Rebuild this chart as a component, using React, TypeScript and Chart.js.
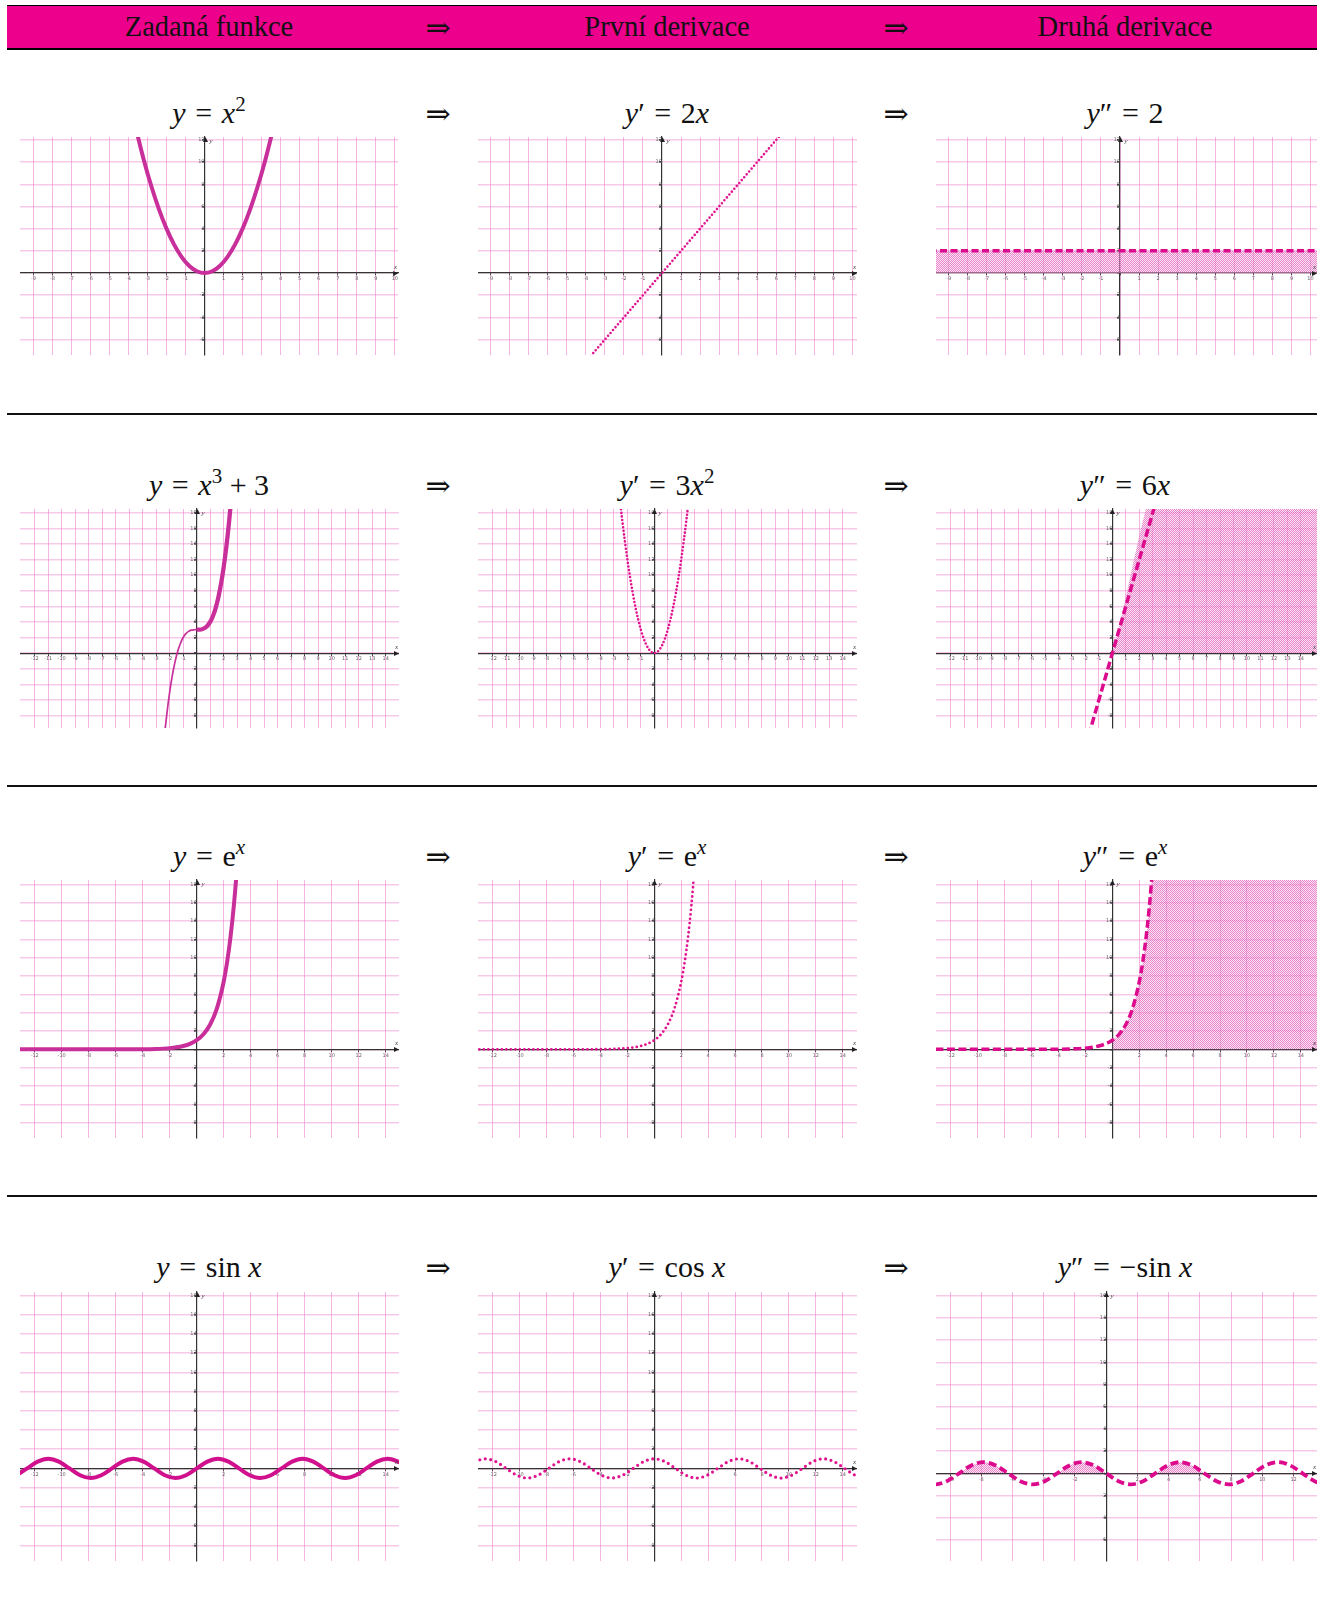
import React, { useEffect, useRef } from 'react';
import { Chart, registerables } from 'chart.js';

Chart.register(...registerables);

// ---------- data ----------
const HEADER_LABELS = ['Zadaná funkce', 'První derivace', 'Druhá derivace'];

const X_TICKS_R1 = [-9, -8, -7, -6, -5, -4, -3, -2, -1, 0, 1, 2, 3, 4, 5, 6, 7, 8, 9, 10];
const Y_TICKS_R1 = [-6, -4, -2, 0, 2, 4, 6, 8, 10, 12];
const X_TICKS_R2 = [-12, -11, -10, -9, -8, -7, -6, -5, -4, -3, -2, -1, 0, 1, 2, 3, 4, 5, 6, 7, 8, 9, 10, 11, 12, 13, 14];
const Y_TICKS_R2 = [-8, -6, -4, -2, 0, 2, 4, 6, 8, 10, 12, 14, 16, 18];
const X_TICKS_R3 = [-12, -10, -8, -6, -4, -2, 0, 2, 4, 6, 8, 10, 12, 14];
const X_TICKS_R4C3 = [-10, -8, -6, -4, -2, 0, 2, 4, 6, 8, 10, 12];
const Y_TICKS_R4C3 = [-6, -4, -2, 0, 2, 4, 6, 8, 10, 12, 14, 16];

// y = x^2
const PARABOLA_X = [-3.6, -3.2, -2.8, -2.4, -2.0, -1.6, -1.2, -0.8, -0.4, 0, 0.4, 0.8, 1.2, 1.6, 2.0, 2.4, 2.8, 3.2, 3.6];
const PARABOLA_Y = [12.96, 10.24, 7.84, 5.76, 4.0, 2.56, 1.44, 0.64, 0.16, 0, 0.16, 0.64, 1.44, 2.56, 4.0, 5.76, 7.84, 10.24, 12.96];
// y' = 2x
const LINE2X_X = [-4, 6.5];
const LINE2X_Y = [-8, 13];
// y'' = 2
const CONST2_X = [-10, 11];
const CONST2_Y = [2, 2];

// y = x^3 + 3
const CUBIC_LEFT_X = [-2.6, -2.4, -2.2, -2.0, -1.8, -1.6, -1.4, -1.2, -1.0, -0.8, -0.6, -0.4, -0.2, 0];
const CUBIC_LEFT_Y = [-14.58, -10.82, -7.65, -5.0, -2.83, -1.1, 0.26, 1.27, 2.0, 2.49, 2.78, 2.94, 2.99, 3.0];
const CUBIC_RIGHT_X = [0, 0.2, 0.4, 0.6, 0.8, 1.0, 1.2, 1.4, 1.6, 1.8, 2.0, 2.2, 2.4, 2.6];
const CUBIC_RIGHT_Y = [3.0, 3.01, 3.06, 3.22, 3.51, 4.0, 4.73, 5.74, 7.1, 8.83, 11.0, 13.65, 16.82, 20.58];
// y' = 3x^2
const QUAD3_X = [-2.6, -2.4, -2.2, -2.0, -1.8, -1.6, -1.4, -1.2, -1.0, -0.8, -0.6, -0.4, -0.2, 0, 0.2, 0.4, 0.6, 0.8, 1.0, 1.2, 1.4, 1.6, 1.8, 2.0, 2.2, 2.4, 2.6];
const QUAD3_Y = [20.28, 17.28, 14.52, 12.0, 9.72, 7.68, 5.88, 4.32, 3.0, 1.92, 1.08, 0.48, 0.12, 0, 0.12, 0.48, 1.08, 1.92, 3.0, 4.32, 5.88, 7.68, 9.72, 12.0, 14.52, 17.28, 20.28];
// y'' = 6x
const LINE6X_X = [-2, 4];
const LINE6X_Y = [-12, 24];
const FILL6X_X = [0, 4, 16];
const FILL6X_Y = [0, 24, 24];

// y = e^x
const EXP_X = [-14, -6, -4, -3, -2.5, -2, -1.5, -1, -0.5, 0, 0.5, 1, 1.5, 2, 2.25, 2.5, 2.75, 3, 3.25];
const EXP_Y = [0, 0.0025, 0.018, 0.05, 0.082, 0.135, 0.223, 0.368, 0.607, 1, 1.649, 2.718, 4.482, 7.389, 9.488, 12.182, 15.643, 20.086, 25.79];
const EXP_FILL_X = [0, 0.5, 1, 1.5, 2, 2.25, 2.5, 2.75, 3, 3.25, 16];
const EXP_FILL_Y = [1, 1.649, 2.718, 4.482, 7.389, 9.488, 12.182, 15.643, 20.086, 25.79, 25.79];

// trig samples (every pi/4)
const TRIG_X = [-13.35, -12.57, -11.78, -11.0, -10.21, -9.42, -8.64, -7.85, -7.07, -6.28, -5.5, -4.71, -3.93, -3.14, -2.36, -1.57, -0.79, 0, 0.79, 1.57, 2.36, 3.14, 3.93, 4.71, 5.5, 6.28, 7.07, 7.85, 8.64, 9.42, 10.21, 11.0, 11.78, 12.57, 13.35, 14.14, 14.92, 15.71];
const SIN_Y = [-0.71, 0, 0.71, 1, 0.71, 0, -0.71, -1, -0.71, 0, 0.71, 1, 0.71, 0, -0.71, -1, -0.71, 0, 0.71, 1, 0.71, 0, -0.71, -1, -0.71, 0, 0.71, 1, 0.71, 0, -0.71, -1, -0.71, 0, 0.71, 1, 0.71, 0];
const COS_Y = [0.71, 1, 0.71, 0, -0.71, -1, -0.71, 0, 0.71, 1, 0.71, 0, -0.71, -1, -0.71, 0, 0.71, 1, 0.71, 0, -0.71, -1, -0.71, 0, 0.71, 1, 0.71, 0, -0.71, -1, -0.71, 0, 0.71, 1, 0.71, 0, -0.71, -1];
const NEG_SIN_Y = [0.71, 0, -0.71, -1, -0.71, 0, 0.71, 1, 0.71, 0, -0.71, -1, -0.71, 0, 0.71, 1, 0.71, 0, -0.71, -1, -0.71, 0, 0.71, 1, 0.71, 0, -0.71, -1, -0.71, 0, 0.71, 1, 0.71, 0, -0.71, -1, -0.71, 0];
// shaded humps of -sin x (from x = -3pi to x = 2pi)
const NEG_SIN_FILL_X = TRIG_X.slice(5, 26);
const NEG_SIN_FILL_Y = NEG_SIN_Y.slice(5, 26);

// ---------- styles ----------
const SERIF = '"Liberation Serif", "DejaVu Serif", serif';
const C_SOLID = '#C92F9B';
const C_SIN = '#D0108C';
const C_DOT = '#E0148F';
const C_DASH = '#DC0A8C';
const PINK = '#EC008C';

type Series = {
  xs: number[];
  ys: number[];
  kind: 'solid' | 'dot' | 'dash' | 'fill';
  color?: string;
  width?: number;
  dash?: number[];
  fill?: boolean;
};

type PlotSpec = {
  left: number; top: number; width: number; height: number;
  xMin: number; xMax: number; yMin: number; yMax: number;
  xTicks: number[]; yTicks: number[];
  series: Series[];
};

const COL_LEFT = [20, 478, 936];
const COL_W = [379, 379, 381];

const ROW1 = { top: 133, height: 226, yMin: -7.39, yMax: 12.26 };
const ROW2 = { top: 505, height: 227, yMin: -9.6, yMax: 18.47 };
const ROW3 = { top: 876, height: 266, yMin: -9.68, yMax: 18.5 };
const ROW4 = { top: 1288, height: 277, yMin: -9.63, yMax: 18.35 };

const XR_A = [[-9.70, 10.17], [-9.66, 10.24], [-9.66, 10.34]];
const XR_B = [[-13.09, 14.99], [-13.1, 15.06], [-13.1, 15.2]];

function plot(row: any, col: number, xr: number[], xTicks: number[], yTicks: number[], series: Series[], over: any = {}): PlotSpec {
  return {
    left: COL_LEFT[col], top: row.top, width: COL_W[col], height: row.height,
    xMin: xr[0], xMax: xr[1], yMin: row.yMin, yMax: row.yMax,
    xTicks, yTicks, series, ...over,
  };
}

const PLOTS: PlotSpec[] = [
  plot(ROW1, 0, XR_A[0], X_TICKS_R1, Y_TICKS_R1, [
    { xs: PARABOLA_X, ys: PARABOLA_Y, kind: 'solid', color: C_SOLID, width: 4 },
  ]),
  plot(ROW1, 1, XR_A[1], X_TICKS_R1, Y_TICKS_R1, [
    { xs: LINE2X_X, ys: LINE2X_Y, kind: 'dot', color: C_DOT, width: 2.6, dash: [0, 3.8] },
  ]),
  plot(ROW1, 2, XR_A[2], X_TICKS_R1, Y_TICKS_R1, [
    { xs: CONST2_X, ys: CONST2_Y, kind: 'dash', color: C_DASH, width: 3.5, dash: [7, 3.5], fill: true },
  ]),
  plot(ROW2, 0, XR_B[0], X_TICKS_R2, Y_TICKS_R2, [
    { xs: CUBIC_RIGHT_X, ys: CUBIC_RIGHT_Y, kind: 'solid', color: C_SOLID, width: 4.3 },
    { xs: CUBIC_LEFT_X, ys: CUBIC_LEFT_Y, kind: 'solid', color: C_SOLID, width: 1.7 },
  ]),
  plot(ROW2, 1, XR_B[1], X_TICKS_R2, Y_TICKS_R2, [
    { xs: QUAD3_X, ys: QUAD3_Y, kind: 'dot', color: C_DOT, width: 2.6, dash: [0, 3.6] },
  ]),
  plot(ROW2, 2, XR_B[2], X_TICKS_R2, Y_TICKS_R2, [
    { xs: LINE6X_X, ys: LINE6X_Y, kind: 'dash', color: C_DASH, width: 3.5, dash: [8, 3.5] },
    { xs: FILL6X_X, ys: FILL6X_Y, kind: 'fill' },
  ]),
  plot(ROW3, 0, XR_B[0], X_TICKS_R3, Y_TICKS_R2, [
    { xs: EXP_X, ys: EXP_Y, kind: 'solid', color: C_SOLID, width: 4 },
  ]),
  plot(ROW3, 1, XR_B[1], X_TICKS_R3, Y_TICKS_R2, [
    { xs: EXP_X, ys: EXP_Y, kind: 'dot', color: C_DOT, width: 2.8, dash: [0, 4.5] },
  ]),
  plot(ROW3, 2, XR_B[2], X_TICKS_R3, Y_TICKS_R2, [
    { xs: EXP_X, ys: EXP_Y, kind: 'dash', color: C_DASH, width: 3.5, dash: [8, 3.5] },
    { xs: EXP_FILL_X, ys: EXP_FILL_Y, kind: 'fill' },
  ]),
  plot(ROW4, 0, XR_B[0], X_TICKS_R3, Y_TICKS_R2, [
    { xs: TRIG_X, ys: SIN_Y, kind: 'solid', color: C_SIN, width: 4 },
  ]),
  plot(ROW4, 1, XR_B[1], X_TICKS_R3, Y_TICKS_R2, [
    { xs: TRIG_X, ys: COS_Y, kind: 'dot', color: C_DOT, width: 3.2, dash: [0, 5.5] },
  ]),
  plot(ROW4, 2, [-10.9, 13.5], X_TICKS_R4C3, Y_TICKS_R4C3, [
    { xs: TRIG_X, ys: NEG_SIN_Y, kind: 'dash', color: C_DASH, width: 3.8, dash: [8, 4] },
    { xs: NEG_SIN_FILL_X, ys: NEG_SIN_FILL_Y, kind: 'fill' },
  ], { yMin: -7.9, yMax: 16.33 }),
];

const TITLE_X = [209, 667, 1125];
const ARROW_X = [438, 896];
const ROW_TITLE_Y = [113, 485, 856, 1267];
const SEPARATOR_Y = [413, 785, 1195];

// ---------- chart helpers ----------
function makePattern(): CanvasPattern | string {
  const c = document.createElement('canvas');
  c.width = 2;
  c.height = 2;
  const g = c.getContext('2d');
  if (!g) return 'rgba(230,100,190,0.4)';
  g.fillStyle = 'rgba(246,196,230,0.45)';
  g.fillRect(0, 0, 2, 2);
  g.fillStyle = 'rgba(222,70,175,0.6)';
  g.fillRect(0, 0, 1, 1);
  g.fillRect(1, 1, 1, 1);
  return g.createPattern(c, 'repeat') || 'rgba(230,100,190,0.4)';
}

const axisDecor = {
  id: 'axisDecor',
  afterDraw(chart: any) {
    const { ctx, chartArea, scales } = chart;
    const x0 = Math.round(scales.x.getPixelForValue(0)) + 0.5;
    const y0 = Math.round(scales.y.getPixelForValue(0)) + 0.5;
    ctx.save();
    ctx.fillStyle = '#222';
    ctx.beginPath();
    ctx.moveTo(x0, chartArea.top);
    ctx.lineTo(x0 - 2.5, chartArea.top + 5);
    ctx.lineTo(x0 + 2.5, chartArea.top + 5);
    ctx.closePath();
    ctx.fill();
    ctx.beginPath();
    ctx.moveTo(chartArea.right, y0);
    ctx.lineTo(chartArea.right - 5, y0 - 2.5);
    ctx.lineTo(chartArea.right - 5, y0 + 2.5);
    ctx.closePath();
    ctx.fill();
    ctx.fillStyle = '#444';
    ctx.font = 'italic 7px "Liberation Serif"';
    ctx.textBaseline = 'middle';
    ctx.textAlign = 'left';
    ctx.fillText('y', x0 + 4, chartArea.top + 4);
    ctx.textAlign = 'right';
    ctx.fillText('x', chartArea.right - 1, y0 - 6);
    ctx.restore();
  },
};

function toDataset(s: Series, pattern: any) {
  const data = s.xs.map((x, i) => ({ x, y: s.ys[i] }));
  const ds: any = {
    data,
    pointRadius: 0,
    pointHoverRadius: 0,
    cubicInterpolationMode: 'monotone',
    borderColor: s.color || 'rgba(0,0,0,0)',
    borderWidth: s.width || 0,
    fill: false,
  };
  if (s.kind === 'dot') {
    ds.borderDash = s.dash;
    ds.borderCapStyle = 'round';
  }
  if (s.kind === 'dash') {
    ds.borderDash = s.dash;
    ds.borderCapStyle = 'butt';
  }
  if (s.fill || s.kind === 'fill') {
    ds.fill = { target: 'origin', above: pattern, below: 'rgba(0,0,0,0)' };
    ds.backgroundColor = pattern;
  }
  if (s.kind === 'fill') {
    ds.borderWidth = 0;
    ds.borderColor = 'rgba(0,0,0,0)';
  }
  return ds;
}

function tickLabel(v: any) {
  return v === 0 ? '' : String(v);
}

function buildConfig(p: PlotSpec, pattern: any): any {
  const tickFont = { size: 5, family: '"DejaVu Sans", sans-serif' };
  return {
    type: 'line',
    data: { datasets: p.series.map((s) => toDataset(s, pattern)) },
    options: {
      responsive: false,
      animation: false,
      devicePixelRatio: 1,
      events: [],
      layout: { padding: 0, autoPadding: false },
      plugins: {
        legend: { display: false },
        tooltip: { enabled: false },
        title: { display: false },
      },
      scales: {
        x: {
          type: 'linear',
          min: p.xMin,
          max: p.xMax,
          position: { y: 0 },
          afterBuildTicks: (ax: any) => {
            ax.ticks = p.xTicks.map((v) => ({ value: v }));
          },
          ticks: { font: tickFont, color: '#666', padding: 1, autoSkip: false, maxRotation: 0, minRotation: 0, callback: tickLabel },
          grid: { color: 'rgba(234,110,196,0.5)', lineWidth: 1, tickLength: 2, tickColor: '#444' },
          border: { display: true, color: '#333', width: 1.2 },
        },
        y: {
          type: 'linear',
          min: p.yMin,
          max: p.yMax,
          position: { x: 0 },
          afterBuildTicks: (ax: any) => {
            ax.ticks = p.yTicks.map((v) => ({ value: v }));
          },
          ticks: { font: tickFont, color: '#666', padding: 1, autoSkip: false, callback: tickLabel },
          grid: { color: 'rgba(236,125,200,0.42)', lineWidth: 1.5, tickLength: 2, tickColor: '#444' },
          border: { display: true, color: '#333', width: 1.2 },
        },
      },
    },
    plugins: [axisDecor],
  };
}

function Plot({ spec }: { spec: PlotSpec }) {
  const ref = useRef<HTMLCanvasElement>(null);
  useEffect(() => {
    const canvas = ref.current;
    if (!canvas) return;
    const chart = new Chart(canvas, buildConfig(spec, makePattern()));
    return () => chart.destroy();
  }, [spec]);
  return (
    <div style={{ position: 'absolute', left: spec.left, top: spec.top, width: spec.width, height: spec.height }}>
      <canvas ref={ref} width={spec.width} height={spec.height} style={{ display: 'block', width: spec.width, height: spec.height }} />
    </div>
  );
}

// ---------- titles ----------
const I = ({ children }: any) => <span style={{ fontStyle: 'italic' }}>{children}</span>;
const Sup = ({ children }: any) => (
  <span style={{ fontSize: '0.7em', verticalAlign: '0.55em', lineHeight: 0 }}>{children}</span>
);
const EQ = <span style={{ margin: '0 0.32em' }}>=</span>;
const PLUS = <span style={{ margin: '0 0.25em' }}>+</span>;

const TITLES: any[][] = [
  [
    <><I>y</I>{EQ}<I>x</I><Sup>2</Sup></>,
    <><I>y</I>′{EQ}2<I>x</I></>,
    <><I>y</I>″{EQ}2</>,
  ],
  [
    <><I>y</I>{EQ}<I>x</I><Sup>3</Sup>{PLUS}3</>,
    <><I>y</I>′{EQ}3<I>x</I><Sup>2</Sup></>,
    <><I>y</I>″{EQ}6<I>x</I></>,
  ],
  [
    <><I>y</I>{EQ}e<Sup><I>x</I></Sup></>,
    <><I>y</I>′{EQ}e<Sup><I>x</I></Sup></>,
    <><I>y</I>″{EQ}e<Sup><I>x</I></Sup></>,
  ],
  [
    <><I>y</I>{EQ}sin <I>x</I></>,
    <><I>y</I>′{EQ}cos <I>x</I></>,
    <><I>y</I>″{EQ}−sin <I>x</I></>,
  ],
];

function Centered({ x, y, size, children }: any) {
  return (
    <div
      style={{
        position: 'absolute',
        left: x,
        top: y,
        transform: 'translate(-50%, -50%)',
        fontFamily: SERIF,
        fontSize: size,
        lineHeight: 1,
        whiteSpace: 'nowrap',
        color: '#111',
      }}
    >
      {children}
    </div>
  );
}

export default function App() {
  return (
    <div style={{ position: 'absolute', left: 0, top: 0, width: 1317, height: 1613, background: '#fff', overflow: 'hidden' }}>
      {/* header */}
      <div
        style={{
          position: 'absolute',
          left: 7,
          top: 5,
          width: 1310,
          height: 45,
          background: PINK,
          borderTop: '1px solid #000',
          borderBottom: '2px solid #000',
          boxSizing: 'border-box',
        }}
      />
      {HEADER_LABELS.map((t, i) => (
        <Centered key={t} x={TITLE_X[i]} y={27} size={28.5}>{t}</Centered>
      ))}
      {ARROW_X.map((x) => (
        <Centered key={'ha' + x} x={x} y={28} size={30}>⇒</Centered>
      ))}

      {/* separators */}
      {SEPARATOR_Y.map((y) => (
        <div key={'s' + y} style={{ position: 'absolute', left: 7, top: y, width: 1310, height: 1.5, background: '#111' }} />
      ))}

      {/* titles and arrows */}
      {TITLES.map((row, r) =>
        row.map((t, c) => (
          <Centered key={'t' + r + c} x={TITLE_X[c]} y={ROW_TITLE_Y[r]} size={30}>{t}</Centered>
        ))
      )}
      {ROW_TITLE_Y.map((y) =>
        ARROW_X.map((x) => (
          <Centered key={'a' + y + '-' + x} x={x} y={y + 1} size={30}>⇒</Centered>
        ))
      )}

      {/* plots */}
      {PLOTS.map((p, i) => (
        <Plot key={i} spec={p} />
      ))}
    </div>
  );
}
